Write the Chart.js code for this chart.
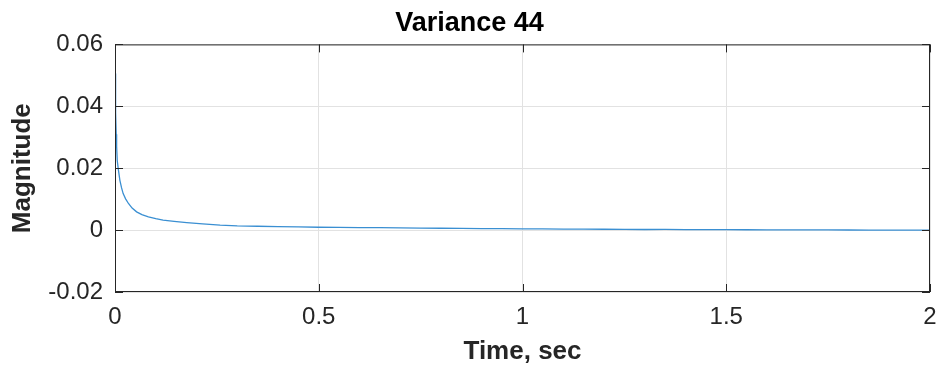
<!DOCTYPE html>
<html>
<head>
<meta charset="utf-8">
<script src="https://cdn.jsdelivr.net/npm/chart.js@4.4.1/dist/chart.umd.min.js"></script>
<style>
  html, body { margin: 0; padding: 0; background: #ffffff; }
  #wrap { width: 939px; height: 370px; }
</style>
</head>
<body>
<div id="wrap"><canvas id="chart" width="939" height="370"></canvas></div>
<script>
// time in seconds
let times = [0, 0.001, 0.002, 0.003, 0.004, 0.0055, 0.008, 0.012, 0.016, 0.020,
             0.026, 0.033, 0.042, 0.053, 0.066, 0.082, 0.100, 0.118, 0.145, 0.176,
             0.215, 0.258, 0.30, 0.35, 0.40, 0.45, 0.50, 0.55, 0.60, 0.65,
             0.70, 0.75, 0.80, 0.85, 0.90, 0.95, 1.00, 1.05, 1.10, 1.15,
             1.20, 1.25, 1.30, 1.35, 1.40, 1.45, 1.50, 1.55, 1.60, 1.65,
             1.70, 1.75, 1.80, 1.85, 1.90, 1.95, 2.00];

// magnitude values
let magnitude = [0.0506, 0.045, 0.038, 0.031, 0.027, 0.0225, 0.0198, 0.0161, 0.0137, 0.0118,
                 0.0101, 0.0086, 0.0071, 0.0059, 0.0050, 0.0043, 0.0037, 0.0032, 0.0028, 0.0024,
                 0.0020, 0.0016, 0.00135, 0.00125, 0.00110, 0.00105, 0.00092, 0.00090, 0.00080, 0.00078,
                 0.00070, 0.00066, 0.00060, 0.00058, 0.00050, 0.00048, 0.00042, 0.00040, 0.00034, 0.00030,
                 0.00028, 0.00022, 0.00020, 0.00024, 0.00018, 0.00015, 0.00014, 0.00012, 0.00010, 0.00008,
                 0.00006, 0.00005, 0.00004, 0.00000, 0.00002, 0.00000, 0.00000];

let xTickLabels = ["0", "0.5", "1", "1.5", "2"];
let yTickLabels = ["-0.02", "0", "0.02", "0.04", "0.06"];

let fontFamily = "'Liberation Sans', Arial, Helvetica, sans-serif";
let axisColor = "#262626";

// matlab style box with inward ticks
let boxPlugin = {
    id: "box",
    afterDraw(chart) {
        let ctx = chart.ctx;
        let a = chart.chartArea;
        let xs = chart.scales.x;
        let ys = chart.scales.y;
        let len = 8;

        ctx.save();
        ctx.strokeStyle = axisColor;
        ctx.lineWidth = 1;
        ctx.strokeRect(a.left + 0.5, a.top + 0.5, a.right - a.left - 1, a.bottom - a.top - 1);

        ctx.beginPath();
        xs.ticks.forEach(t => {
            let px = Math.round(xs.getPixelForValue(t.value)) + 0.5;
            ctx.moveTo(px, a.bottom);
            ctx.lineTo(px, a.bottom - len);
            ctx.moveTo(px, a.top);
            ctx.lineTo(px, a.top + len);
        });
        ys.ticks.forEach(t => {
            let py = Math.round(ys.getPixelForValue(t.value)) + 0.5;
            ctx.moveTo(a.left, py);
            ctx.lineTo(a.left + len, py);
            ctx.moveTo(a.right, py);
            ctx.lineTo(a.right - len, py);
        });
        ctx.stroke();
        ctx.restore();
    }
};

let points = times.map((t, i) => ({ x: t, y: magnitude[i] }));

let context = document.getElementById("chart").getContext("2d");

let chart = new Chart(context,
{
    type: "line",
    data:
    {
        datasets:
        [{
            data: points,
            borderColor: "#3a8fd2",
            borderWidth: 1.3,
            pointRadius: 0,
            tension: 0,
            fill: false
        }]
    },
    options:
    {
        responsive: false,
        animation: false,
        layout: { padding: 0 },
        plugins:
        {
            legend: { display: false },
            tooltip: { enabled: false },
            title:
            {
                display: true,
                text: "Variance 44",
                color: "#000000",
                font: { family: fontFamily, size: 27, weight: "bold" },
                padding: { top: 7, bottom: 5 }
            }
        },
        scales:
        {
            x:
            {
                type: "linear",
                min: 0,
                max: 2,
                afterFit: scale => {
                    scale.height = 78;
                    scale.paddingLeft = 0;
                    scale.paddingRight = 9;
                },
                ticks:
                {
                    stepSize: 0.5,
                    padding: 11,
                    color: axisColor,
                    font: { family: fontFamily, size: 24 },
                    maxRotation: 0,
                    callback: (value, index) => xTickLabels[index]
                },
                grid: { color: "#e2e2e2", drawTicks: false },
                border: { display: false },
                title:
                {
                    display: true,
                    text: "Time, sec",
                    color: axisColor,
                    font: { family: fontFamily, size: 26, weight: "bold" },
                    padding: { top: 0, bottom: 3 }
                }
            },
            y:
            {
                min: -0.02,
                max: 0.06,
                afterFit: scale => { scale.width = 115; },
                ticks:
                {
                    stepSize: 0.02,
                    padding: 12,
                    color: axisColor,
                    font: { family: fontFamily, size: 24 },
                    callback: (value, index) => yTickLabels[index]
                },
                grid: { color: "#e2e2e2", drawTicks: false },
                border: { display: false },
                title:
                {
                    display: true,
                    text: "Magnitude",
                    color: axisColor,
                    font: { family: fontFamily, size: 26, weight: "bold" },
                    padding: { top: 7, bottom: 0 }
                }
            }
        }
    },
    plugins: [boxPlugin]
});
</script>
</body>
</html>
